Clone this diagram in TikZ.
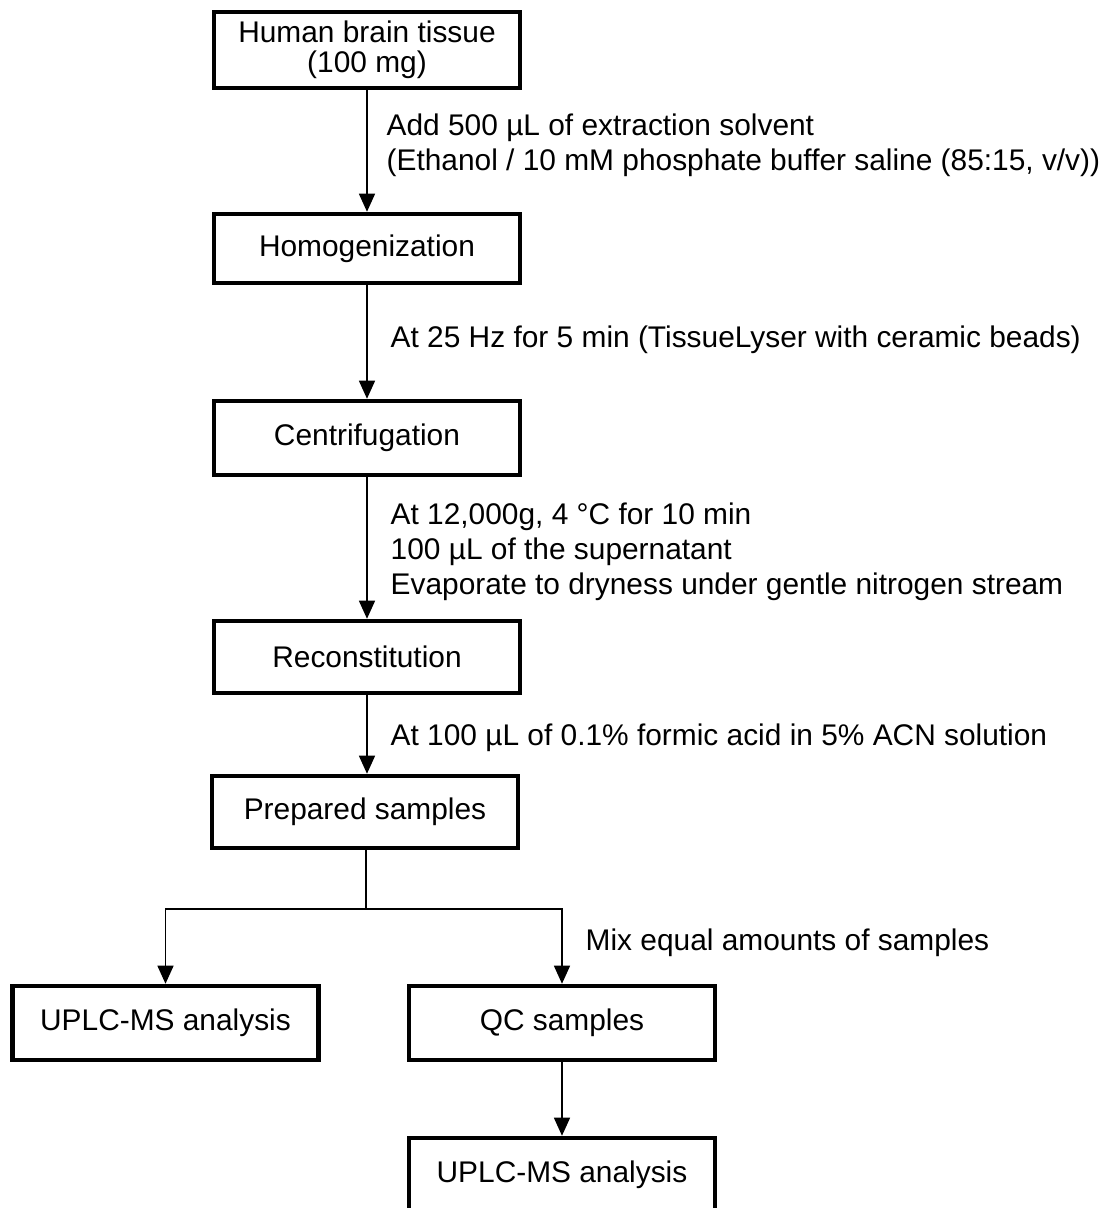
\documentclass[tikz,border=0pt]{standalone}
\usepackage{fontspec}
\setmainfont{Liberation Sans}
\usetikzlibrary{arrows.meta}

\begin{document}
\begin{tikzpicture}[
        box/.style={draw, line width=1.3pt, minimum width=3.06cm, minimum height=0.74cm, inner sep=1pt, align=center, font=\fontsize{8.5}{8.6}\selectfont},
        note/.style={anchor=west, inner sep=0pt, align=left, font=\fontsize{8.5}{10}\selectfont},
        arrow/.style={-{Triangle[length=0.18cm, width=0.16cm]}, line width=0.4pt}
    ]
        \useasboundingbox (0,0) rectangle (11.10,-12.08);

        % Main column
        \node[box, minimum height=0.76cm] (tissue) at (3.67,-0.50) {Human brain tissue\\(100 mg)};
        \node[box, minimum height=0.69cm] (homog) at (3.67,-2.485) {Homogenization};
        \node[box] (centri) at (3.67,-4.38) {Centrifugation};
        \node[box, minimum height=0.72cm] (recon) at (3.67,-6.57) {Reconstitution};
        \node[box, minimum height=0.72cm] (prepared) at (3.65,-8.12) {Prepared samples};

        % Bottom branches
        \node[box] (uplcleft) at (1.655,-10.23) {UPLC-MS analysis};
        \node[box] (qc) at (5.62,-10.23) {QC samples};
        \node[box] (uplcqc) at (5.62,-11.75) {UPLC-MS analysis};

        % Step notes
        \node[note] (solvent) at (3.86,-1.455) {Add 500 µL of extraction solvent\\(Ethanol / 10 mM phosphate buffer saline (85:15, v/v))};
        \node[note] (shaking) at (3.90,-3.40) {At 25 Hz for 5 min (TissueLyser with ceramic beads)};
        \node[note] (spin) at (3.90,-5.515) {At 12,000g, 4 °C for 10 min\\100 µL of the supernatant\\Evaporate to dryness under gentle nitrogen stream};
        \node[note] (solution) at (3.90,-7.38) {At 100 µL of 0.1\% formic acid in 5\% ACN solution};
        \node[note] (mixing) at (5.85,-9.43) {Mix equal amounts of samples};

        % Arrows down the column
        \draw[arrow] (tissue) -- (homog);
        \draw[arrow] (homog) -- (centri);
        \draw[arrow] (centri) -- (recon);
        \draw[arrow] (recon.south) -- (recon.south |- prepared.north);

        % Split into analysis and QC
        \coordinate (split) at (3.66,-9.09);
        \draw[line width=0.4pt] (prepared.south -| split) -- (split);
        \draw[arrow] (split) -| (uplcleft.north);
        \draw[arrow] (split) -| (qc.north);
        \draw[arrow] (qc) -- (uplcqc);
    \end{tikzpicture}
\end{document}
